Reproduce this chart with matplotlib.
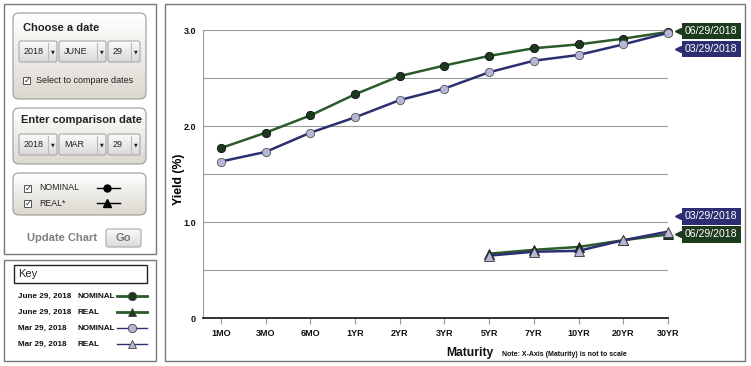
import numpy as np
import matplotlib
matplotlib.use('Agg')
import matplotlib.pyplot as plt
from matplotlib.patches import FancyBboxPatch, Rectangle
from matplotlib.colors import LinearSegmentedColormap
from matplotlib.transforms import offset_copy

plt.rcParams['font.family'] = ['Liberation Sans', 'DejaVu Sans']

# data
maturities = ['1MO', '3MO', '6MO', '1YR', '2YR', '3YR', '5YR', '7YR', '10YR', '20YR', '30YR']
nominal_jun = [1.77, 1.93, 2.11, 2.33, 2.52, 2.63, 2.73, 2.81, 2.85, 2.91, 2.98]
nominal_mar = [1.63, 1.73, 1.93, 2.09, 2.27, 2.39, 2.56, 2.68, 2.74, 2.85, 2.97]
real_maturities = ['5YR', '7YR', '10YR', '20YR', '30YR']
real_jun = [0.67, 0.71, 0.74, 0.81, 0.87]
real_mar = [0.65, 0.69, 0.70, 0.81, 0.90]
yticks = [0, 0.5, 1.0, 1.5, 2.0, 2.5, 3.0]
ytick_labels = ['0', '', '1.0', '', '2.0', '', '3.0']

GREEN = '#2b5a2b'
GREEN_DOT = '#1d3a1d'
NAVY = '#2c2e72'
LILAC = '#b6b6d6'

W, H = 751, 366
fig = plt.figure(figsize=(W / 100, H / 100), dpi=100)
fig.patch.set_facecolor('white')

# pixel-space layer for the page furniture
ax0 = fig.add_axes([0, 0, 1, 1])
ax0.set_xlim(0, W)
ax0.set_ylim(H, 0)
ax0.axis('off')


def grad_box(x, y, w, h, top, bottom, r=6, ec='#9a9a9a', lw=0.8):
    p = FancyBboxPatch((x, y), w, h, boxstyle='round,pad=0,rounding_size=%g' % r,
                       fc='none', ec=ec, lw=lw, zorder=3)
    ax0.add_patch(p)
    cm = LinearSegmentedColormap.from_list('g', [top, bottom])
    im = ax0.imshow(np.linspace(0, 1, 64)[:, None], cmap=cm, aspect='auto',
                    extent=(x, x + w, y + h, y), zorder=2)
    im.set_clip_path(p)


def dropdown(x, y, w, label, h=21):
    grad_box(x, y, w, h, '#fbfbfb', '#d9d9d9', r=2, ec='#a8a8a8')
    ax0.text(x + 5, y + h / 2, label, fontsize=6.5, va='center', color='#222', zorder=4)
    ax0.plot([x + w - 9, x + w - 9], [y + 2, y + h - 2], color='#bbbbbb', lw=0.8, zorder=4)
    ax0.text(x + w - 4.5, y + h / 2, '\u25bc', fontsize=3.5, ha='center', va='center',
             family='DejaVu Sans', color='#222', zorder=4)


def checkbox(x, y):
    ax0.add_patch(Rectangle((x, y - 3.5), 7, 7, fc='white', ec='#555', lw=0.7, zorder=4))
    ax0.text(x + 3.8, y, '\u2713', fontsize=6, ha='center', va='center',
             family='DejaVu Sans', color='#222', zorder=5)


# outer boxes
ax0.add_patch(Rectangle((4, 4), 152, 250, fc='white', ec='#777', lw=1))
ax0.add_patch(Rectangle((4, 260), 152, 101, fc='white', ec='#777', lw=1))
ax0.add_patch(Rectangle((165, 4), 580, 357, fc='white', ec='#777', lw=1))

# date chooser
grad_box(13, 13, 133, 86, '#ffffff', '#dcd8cf')
ax0.text(23, 28, 'Choose a date', fontsize=8, weight='bold', va='center', color='#222', zorder=4)
dropdown(19, 41, 38, '2018')
dropdown(59, 41, 47, 'JUNE')
dropdown(108, 41, 32, '29')
checkbox(23, 80)
ax0.text(36, 80.5, 'Select to compare dates', fontsize=6.5, va='center', color='#222', zorder=4)

grad_box(13, 108, 133, 56, '#ffffff', '#dcd8cf')
ax0.text(21, 120, 'Enter comparison date', fontsize=8, weight='bold', va='center',
         color='#222', zorder=4)
dropdown(19, 134, 38, '2018')
dropdown(59, 134, 47, 'MAR')
dropdown(108, 134, 32, '29')

grad_box(13, 173, 133, 42, '#ffffff', '#dcd8cf')
checkbox(24, 188)
checkbox(24, 203)
ax0.text(39, 188, 'NOMINAL', fontsize=6.3, va='center', color='#222', zorder=4)
ax0.text(39, 203, 'REAL*', fontsize=6.3, va='center', color='#222', zorder=4)
ax0.plot([97, 107, 120], [188, 188, 188], color='black', lw=1, marker='o', markevery=[1],
         ms=5, zorder=4)
ax0.plot([97, 107, 120], [203, 203, 203], color='black', lw=1, marker='^',
         markevery=[1], ms=6, zorder=4)

ax0.text(27, 238, 'Update Chart', fontsize=8, weight='bold', va='center',
         color='#7f7f7f', zorder=4)
grad_box(106, 229, 35, 18, '#fbfbfb', '#d9d9d9', r=2, ec='#a8a8a8')
ax0.text(123.5, 238, 'Go', fontsize=8, weight='bold', ha='center', va='center',
         color='#777', zorder=4)

# key box
ax0.add_patch(Rectangle((14, 265), 133, 18, fc='white', ec='#222', lw=1))
ax0.text(18, 274, 'Key', fontsize=8, va='center', color='#222')
key_rows = [('June 29, 2018', 'NOMINAL', GREEN, 'o', GREEN_DOT, 2),
            ('June 29, 2018', 'REAL', GREEN, '^', GREEN_DOT, 2),
            ('Mar 29, 2018', 'NOMINAL', NAVY, 'o', LILAC, 1),
            ('Mar 29, 2018', 'REAL', NAVY, '^', LILAC, 1)]
for i, (d, kind, c, m, fc, lw) in enumerate(key_rows):
    yy = 296 + 16 * i
    ax0.text(18, yy, d, fontsize=5.9, weight='bold', va='center', color='#111')
    ax0.text(77, yy, kind, fontsize=5.9, weight='bold', va='center', color='#111')
    ax0.plot([117, 132, 147], [yy, yy, yy], color=c, lw=lw, marker=m, markevery=[1],
             ms=6, mfc=fc, mec='#444', mew=0.6)

# chart
ax = fig.add_axes([203 / W, (H - 318) / H, 465 / W, 288 / H])
ax.patch.set_alpha(0)
ax.set_xlim(-0.4, 10)
ax.set_ylim(0, 3)
x = np.arange(len(maturities))
xr = np.array([maturities.index(m) for m in real_maturities])

ax.plot(x, nominal_jun, color=GREEN, lw=1.8, marker='o', ms=6, mfc=GREEN_DOT,
        mec='#111', mew=0.6, clip_on=False, zorder=3)
ax.plot(xr, real_jun, color=GREEN, lw=1.8, marker='^', ms=7, mfc=GREEN_DOT,
        mec='#111', mew=0.6, clip_on=False, zorder=3)
ax.plot(x, nominal_mar, color=NAVY, lw=1.8, marker='o', ms=6, mfc=LILAC,
        mec='#555', mew=0.6, clip_on=False, zorder=4)
ax.plot(xr, real_mar, color=NAVY, lw=1.8, marker='^', ms=7, mfc=LILAC,
        mec='#333', mew=0.6, clip_on=False, zorder=4)

ax.set_yticks(yticks)
ax.set_yticklabels(ytick_labels)
ax.yaxis.grid(True, color='#9a9a9a', lw=0.8)
ax.set_axisbelow(True)
ax.tick_params(axis='y', length=0, pad=5, labelsize=6.5)
ax.set_xticks(x)
ax.set_xticklabels(maturities)
ax.tick_params(axis='x', length=4, color='#999', pad=4, labelsize=6.5)
for lab in ax.get_xticklabels() + ax.get_yticklabels():
    lab.set_fontweight('bold')
    lab.set_color('#111')
for s in ('top', 'right'):
    ax.spines[s].set_visible(False)
ax.spines['left'].set_color('#999')
ax.spines['bottom'].set_color('#222')
ax.spines['bottom'].set_linewidth(1.3)

ax.set_ylabel('Yield (%)', fontsize=8.8, weight='bold')
ax.yaxis.set_label_coords(-0.038, 0.48)
fig.text(446 / W, 1 - 353 / H, 'Maturity', fontsize=8.7, weight='bold', va='center', color='#111')
fig.text(502 / W, 1 - 355 / H, 'Note: X-Axis (Maturity) is not to scale', fontsize=5,
         weight='bold', va='center', color='#111')

# end-of-line date flags
def flag(yval, dy, text, color):
    ax.annotate(text, xy=(x[-1], yval), xytext=(17, dy), textcoords='offset pixels',
                fontsize=7.6, color='white', ha='left', va='center', annotation_clip=False,
                bbox=dict(boxstyle='square,pad=0.3', fc=color, ec='none'))
    tr = offset_copy(ax.transData, fig=fig, x=10, y=dy, units='dots')
    ax.plot([x[-1]], [yval], marker='<', ms=5, color=color, transform=tr, clip_on=False)


flag(nominal_jun[-1], 1, '06/29/2018', GREEN_DOT)
flag(nominal_jun[-1], -17, '03/29/2018', NAVY)
flag(real_jun[-1], 0, '06/29/2018', GREEN_DOT)
flag(real_jun[-1], 18, '03/29/2018', NAVY)

fig.savefig('out.png', dpi=100)
